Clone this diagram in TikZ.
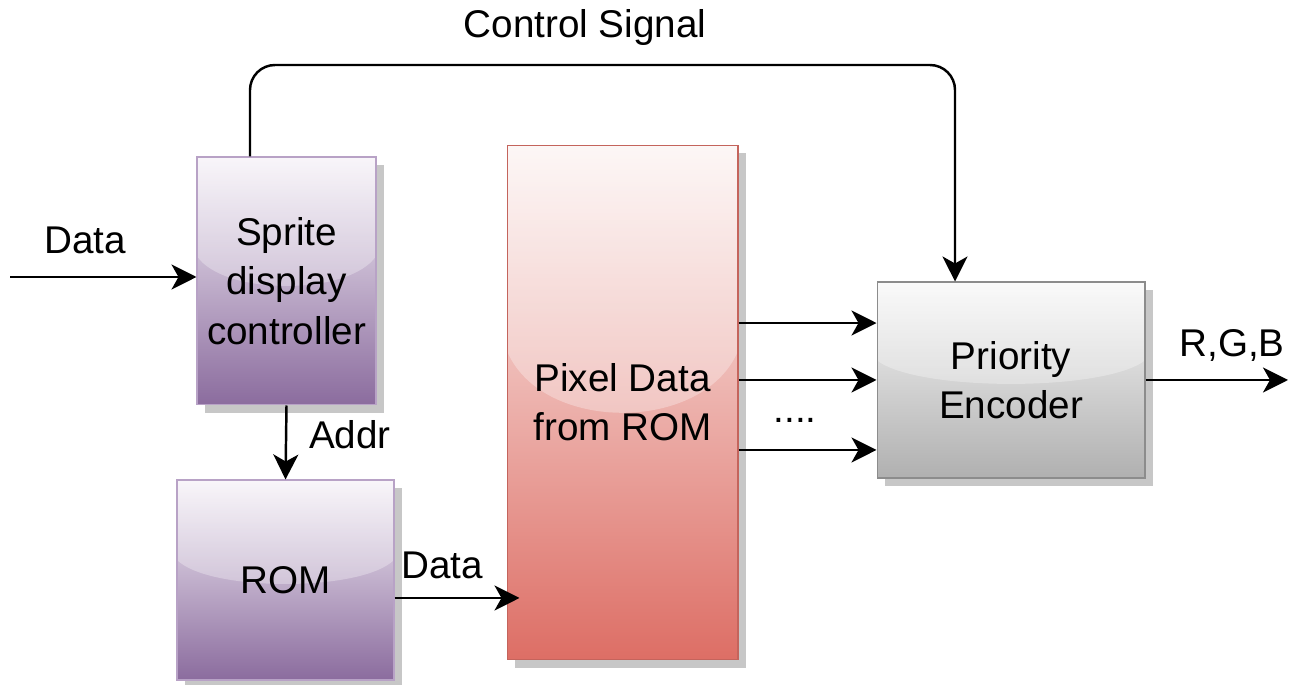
\documentclass[tikz,border=0pt]{standalone}
\usepackage{fontspec}
\setmainfont{Liberation Sans}
\usetikzlibrary{arrows.meta,shadows,calc}

\definecolor{spritetop}{HTML}{F6F2F8}
\definecolor{spritebot}{HTML}{8B6C9E}
\definecolor{spriteln}{HTML}{B8A2C6}
\definecolor{pixtop}{HTML}{FCF4F3}
\definecolor{pixbot}{HTML}{DD6E65}
\definecolor{pixln}{HTML}{C4645C}
\definecolor{priotop}{HTML}{F8F8F8}
\definecolor{priobot}{HTML}{B0B0B0}
\definecolor{prioln}{HTML}{8C8C8C}

\begin{document}
\begin{tikzpicture}[x=0.02cm,y=-0.02cm,font=\fontsize{22}{28}\selectfont]
	\tikzstyle{block}=[draw,line width=0.6pt,rectangle,align=center,
		drop shadow={shadow xshift=0.16cm,shadow yshift=-0.16cm,fill=black,opacity=0.22},
		path picture={\fill[white,opacity=0.3] (path picture bounding box.north west)
			-- ($(path picture bounding box.north west)!0.4!(path picture bounding box.south west)$)
			.. controls ($($(path picture bounding box.north west)!0.56!(path picture bounding box.south west)$)!0.15!($(path picture bounding box.north east)!0.56!(path picture bounding box.south east)$)$)
			and ($($(path picture bounding box.north west)!0.56!(path picture bounding box.south west)$)!0.85!($(path picture bounding box.north east)!0.56!(path picture bounding box.south east)$)$)
			.. ($(path picture bounding box.north east)!0.4!(path picture bounding box.south east)$)
			-- (path picture bounding box.north east) -- cycle;}]
	\tikzstyle{arr}=[-{Stealth[length=5mm,width=5mm,inset=1.4mm]},line width=1.4pt]
	\useasboundingbox (0,0) rectangle (1316,685);
	% blocks
	\node [block,top color=spritetop,bottom color=spritebot,draw=spriteln,minimum width=3.58cm,minimum height=4.96cm] (sprite) at (286.5,281) {Sprite\\display\\controller};
	\node [block,top color=spritetop,bottom color=spritebot,draw=spriteln,minimum width=4.34cm,minimum height=4cm] (rom) at (285.5,580) {ROM};
	\node [block,top color=pixtop,bottom color=pixbot,draw=pixln,minimum width=4.62cm,minimum height=10.3cm] (pix) at (622.5,402.5) {Pixel Data\\from ROM};
	\node [block,top color=priotop,bottom color=priobot,draw=prioln,minimum width=5.36cm,minimum height=3.92cm] (prio) at (1011,380) {Priority\\Encoder};
	% connectors
	\coordinate (din) at (10,277);
	\draw [arr] (din) -- (sprite.west |- din);
	\node (ldin) at (85,240) {Data};
	\draw [arr] (sprite.south) -- (rom.north);
	\node (laddr) at (350,435) {Addr};
	\coordinate (rd) at ([yshift=-0.36cm]rom.east);
	\draw [arr,shorten >=-2.6mm] (rd) -- (pix.west |- rd);
	\node (lrd) at (442,565) {Data};
	\coordinate (csig) at (0,65);
	\coordinate (ctl) at ([xshift=-1.12cm]prio.north);
	\draw [arr,rounded corners=0.5cm] ([xshift=-0.73cm]sprite.north) |- (ctl |- csig) -- (ctl);
	\node (lcsig) at (585,28) {Control Signal};
	\foreach \dy in {1.14,0,-1.4} {
		\coordinate (pe) at ([yshift=\dy cm]prio.west);
		\draw [arr] (pix.east |- pe) -- (pe);
	}
	\node (dots) at (795,420) {....};
	\coordinate (rgb) at (1288,380);
	\draw [arr] (prio.east) -- (rgb);
	\node (lrgb) at (1232,345) {R,G,B};
\end{tikzpicture}
\end{document}
